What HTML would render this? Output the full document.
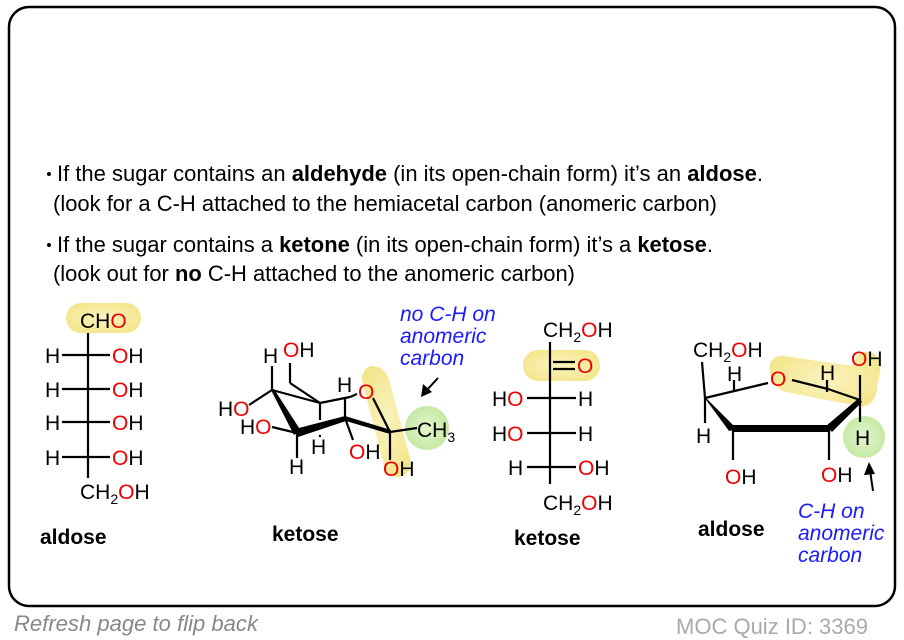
<!DOCTYPE html>
<html><head><meta charset="utf-8"><style>
html,body{margin:0;padding:0;background:#fff;}
svg{display:block;}
text{font-family:"Liberation Sans",Arial,sans-serif;}
</style></head><body>
<svg width="904" height="640" viewBox="0 0 904 640" xmlns="http://www.w3.org/2000/svg">
<defs>
<radialGradient id="gy" cx="50%" cy="50%" r="60%"><stop offset="0" stop-color="#fbf3c0"/><stop offset="1" stop-color="#f3e58a"/></radialGradient>
<radialGradient id="gg" cx="50%" cy="50%" r="60%"><stop offset="0" stop-color="#e4f5cf"/><stop offset="1" stop-color="#bfe79a"/></radialGradient>
</defs>
<rect x="9" y="7" width="886" height="599" rx="20" fill="#fff" stroke="#000" stroke-width="2.5"/>

<g font-size="22" fill="#000">
<circle cx="49" cy="174" r="2" fill="#000"/>
<text x="57" y="181" textLength="706" lengthAdjust="spacingAndGlyphs">If the sugar contains an <tspan font-weight="bold">aldehyde</tspan> (in its open-chain form) it’s an <tspan font-weight="bold">aldose</tspan>.</text>
<text x="53" y="211" textLength="664" lengthAdjust="spacingAndGlyphs">(look for a C-H attached to the hemiacetal carbon (anomeric carbon)</text>
<circle cx="49" cy="245" r="2" fill="#000"/>
<text x="57" y="252" textLength="656" lengthAdjust="spacingAndGlyphs">If the sugar contains a <tspan font-weight="bold">ketone</tspan> (in its open-chain form) it’s a <tspan font-weight="bold">ketose</tspan>.</text>
<text x="53" y="281" textLength="522" lengthAdjust="spacingAndGlyphs">(look out for <tspan font-weight="bold">no</tspan> C-H attached to the anomeric carbon)</text>
</g>

<!-- aldose Fischer -->
<rect x="66" y="303" width="75" height="30" rx="15" fill="url(#gy)"/>
<g font-size="21">
<text x="80" y="328">CH<tspan fill="#e00">O</tspan></text>
<g stroke="#000" stroke-width="2.2">
<line x1="88" y1="333" x2="88" y2="478"/>
<line x1="62" y1="355" x2="110" y2="355"/>
<line x1="62" y1="389" x2="110" y2="389"/>
<line x1="62" y1="422" x2="110" y2="422"/>
<line x1="62" y1="457" x2="110" y2="457"/>
</g>
<text x="45" y="363">H</text><text x="112" y="363"><tspan fill="#e00">O</tspan>H</text>
<text x="45" y="397">H</text><text x="112" y="397"><tspan fill="#e00">O</tspan>H</text>
<text x="45" y="430">H</text><text x="112" y="430"><tspan fill="#e00">O</tspan>H</text>
<text x="45" y="465">H</text><text x="112" y="465"><tspan fill="#e00">O</tspan>H</text>
<text x="80" y="499">CH<tspan font-size="14" dy="5">2</tspan><tspan dy="-5" fill="#e00">O</tspan>H</text>
</g>
<text x="40" y="544" font-size="21" font-weight="bold">aldose</text>

<!-- chair ketose -->
<path d="M362,380 Q362,368 372,366 Q382,366 388,376 L410,458 Q412,474 400,477 Q388,478 384,466 Z" fill="url(#gy)"/>
<circle cx="427" cy="428" r="22" fill="url(#gg)"/>
<g stroke="#000" stroke-width="2.2" fill="none">
<line x1="272" y1="390" x2="320" y2="403"/>
<line x1="290" y1="363" x2="290" y2="383"/>
<line x1="290" y1="383" x2="320" y2="403"/>
<line x1="320" y1="403" x2="350" y2="397"/>
<line x1="350" y1="397" x2="357" y2="394"/>
<line x1="320" y1="403" x2="320" y2="420"/>
<line x1="345" y1="418" x2="345" y2="398"/>
<line x1="345" y1="418" x2="353" y2="440"/>
<line x1="390" y1="432" x2="373" y2="398"/>
<line x1="390" y1="432" x2="417" y2="428"/>
<line x1="390" y1="432" x2="390" y2="460"/>
<line x1="272" y1="390" x2="272" y2="366"/>
<line x1="272" y1="390" x2="249" y2="405"/>
<line x1="297" y1="433" x2="297" y2="458"/>
<line x1="297" y1="433" x2="272" y2="427"/>
</g>
<circle cx="320" cy="436" r="1.2" fill="#000"/>
<polygon points="271,390 274,389 301,431 294,435" fill="#000"/>
<polygon points="295,429 345,416 346,421 298,437" fill="#000"/>
<polygon points="345,416 391,430 390,434 346,421" fill="#000"/>
<g font-size="21">
<text x="263" y="363">H</text><text x="283" y="357"><tspan fill="#e00">O</tspan>H</text>
<text x="218" y="416">H<tspan fill="#e00">O</tspan></text>
<text x="240" y="434">H<tspan fill="#e00">O</tspan></text>
<text x="337" y="392">H</text>
<text x="358" y="399" fill="#e00">O</text>
<text x="417" y="437">CH<tspan font-size="14" dy="5">3</tspan></text>
<text x="311" y="454">H</text>
<text x="289" y="474">H</text>
<text x="349" y="459"><tspan fill="#e00">O</tspan>H</text>
<text x="383" y="476"><tspan fill="#e00">O</tspan>H</text>
</g>
<text x="272" y="541" font-size="21" font-weight="bold">ketose</text>
<g font-size="21" font-style="italic" fill="#1a1aff">
<text x="400" y="321">no C-H on</text>
<text x="400" y="343">anomeric</text>
<text x="400" y="365">carbon</text>
</g>
<line x1="438" y1="378" x2="426" y2="391" stroke="#000" stroke-width="2"/>
<polygon points="421,397 423,384 432,392" fill="#000"/>

<!-- ketose Fischer -->
<rect x="523" y="350" width="77" height="31" rx="15" fill="url(#gy)"/>
<g stroke="#000" stroke-width="2.2">
<line x1="550" y1="342" x2="550" y2="484"/>
<line x1="527" y1="398" x2="576" y2="398"/>
<line x1="527" y1="433" x2="576" y2="433"/>
<line x1="527" y1="467" x2="576" y2="467"/>
<line x1="553" y1="362" x2="575" y2="362"/>
<line x1="553" y1="369" x2="575" y2="369"/>
</g>
<g font-size="21">
<text x="543" y="337">CH<tspan font-size="14" dy="5">2</tspan><tspan dy="-5" fill="#e00">O</tspan>H</text>
<text x="577" y="373" fill="#e00">O</text>
<text x="492" y="406">H<tspan fill="#e00">O</tspan></text><text x="578" y="406">H</text>
<text x="492" y="441">H<tspan fill="#e00">O</tspan></text><text x="578" y="441">H</text>
<text x="508" y="475">H</text><text x="578" y="475"><tspan fill="#e00">O</tspan>H</text>
<text x="543" y="510">CH<tspan font-size="14" dy="5">2</tspan><tspan dy="-5" fill="#e00">O</tspan>H</text>
</g>
<text x="514" y="545" font-size="21" font-weight="bold">ketose</text>

<!-- furanose aldose -->
<path d="M770,365 Q772,355 785,356 L852,366 Q856,350 870,352 Q882,356 880,372 L876,394 Q872,408 858,406 L786,392 Q768,386 770,365 Z" fill="url(#gy)"/>
<circle cx="864" cy="437" r="21" fill="url(#gg)"/>
<g stroke="#000" stroke-width="2.2" fill="none">
<line x1="702" y1="362" x2="705" y2="398"/>
<line x1="705" y1="398" x2="768" y2="383"/>
<line x1="734" y1="380" x2="734" y2="392"/>
<line x1="705" y1="398" x2="705" y2="423"/>
<line x1="733" y1="428" x2="733" y2="460"/>
<line x1="829" y1="428" x2="829" y2="460"/>
<line x1="792" y1="380" x2="828" y2="389"/>
<line x1="828" y1="389" x2="860" y2="400"/>
<line x1="827" y1="380" x2="827" y2="392"/>
<line x1="860" y1="400" x2="860" y2="422"/>
<line x1="860" y1="400" x2="860" y2="375"/>
</g>
<polygon points="704,397 707,399 737,429 729,431" fill="#000"/>
<polygon points="731,425 829,425 829,432 733,432" fill="#000"/>
<polygon points="826,426 859,398 862,402 832,432" fill="#000"/>
<g font-size="21">
<text x="693" y="357">CH<tspan font-size="14" dy="5">2</tspan><tspan dy="-5" fill="#e00">O</tspan>H</text>
<text x="727" y="381">H</text>
<text x="770" y="386" fill="#e00">O</text>
<text x="820" y="380">H</text>
<text x="851" y="366"><tspan fill="#e00">O</tspan>H</text>
<text x="696" y="443">H</text>
<text x="855" y="445">H</text>
<text x="725" y="484"><tspan fill="#e00">O</tspan>H</text>
<text x="821" y="482"><tspan fill="#e00">O</tspan>H</text>
</g>
<line x1="873" y1="491" x2="870" y2="470" stroke="#000" stroke-width="2"/>
<polygon points="869,462 864,475 875,474" fill="#000"/>
<text x="698" y="536" font-size="21" font-weight="bold">aldose</text>
<g font-size="21" font-style="italic" fill="#1a1aff">
<text x="798" y="518">C-H on</text>
<text x="798" y="540">anomeric</text>
<text x="798" y="562">carbon</text>
</g>

<text x="14" y="631" font-size="22" font-style="italic" fill="#888" textLength="244" lengthAdjust="spacingAndGlyphs">Refresh page to flip back</text>
<text x="676" y="634" font-size="22" fill="#aaa" textLength="192" lengthAdjust="spacingAndGlyphs">MOC Quiz ID: 3369</text>
</svg>
</body></html>
